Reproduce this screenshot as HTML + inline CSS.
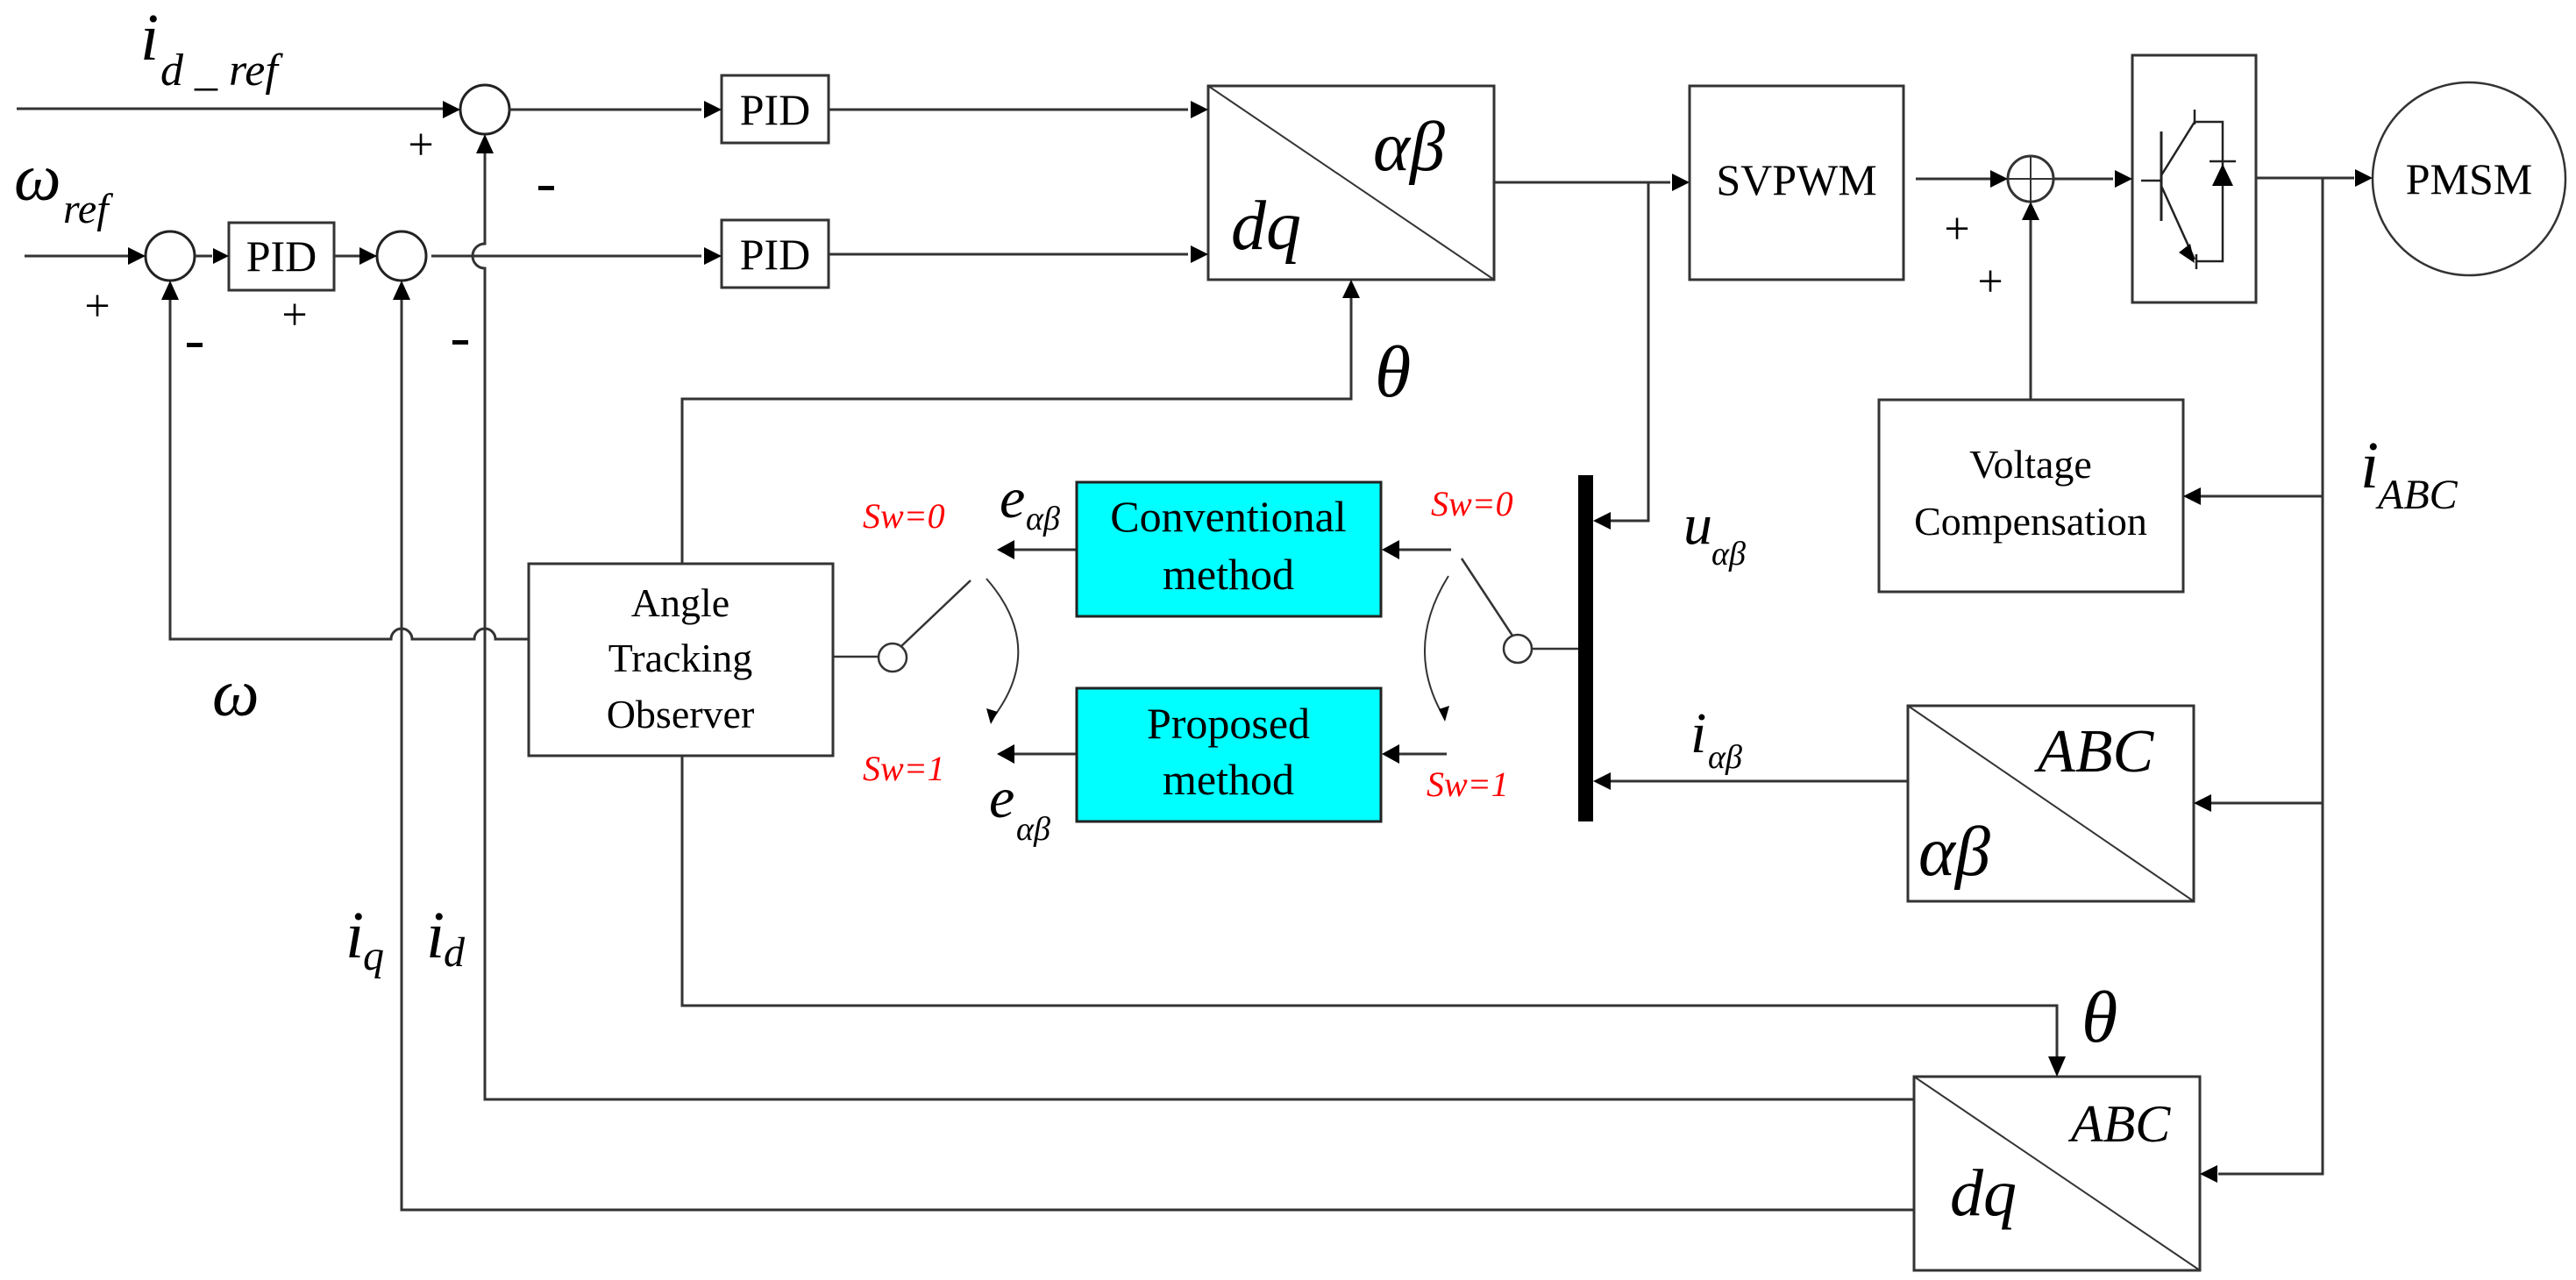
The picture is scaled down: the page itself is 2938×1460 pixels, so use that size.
<!DOCTYPE html>
<html><head><meta charset="utf-8"><style>
html,body{margin:0;padding:0;background:#fff;}
svg{display:block;}
text{font-family:"Liberation Serif",serif;fill:#000;}
.it{font-style:italic;}
.red{fill:#f00;font-style:italic;}
</style></head><body>
<svg width="2938" height="1460" viewBox="0 0 2938 1460" xmlns="http://www.w3.org/2000/svg">
<g stroke="#333" stroke-width="3" fill="none">
<line x1="19" y1="124" x2="505" y2="124"/>
<circle cx="553" cy="125" r="28" stroke="#222"/>
<line x1="581" y1="125" x2="800" y2="125"/>
<rect x="823" y="86" width="122" height="77"/>
<line x1="945" y1="125" x2="1355" y2="125"/>
<rect x="1378" y="98" width="326" height="221"/>
<line x1="1378" y1="98" x2="1704" y2="319" stroke-width="2"/>
<line x1="28" y1="292" x2="146" y2="292"/>
<circle cx="194" cy="292" r="28" stroke="#222"/>
<line x1="222" y1="292" x2="242" y2="292"/>
<rect x="261" y="254" width="120" height="77"/>
<line x1="381" y1="292" x2="410" y2="292"/>
<circle cx="458" cy="292" r="28" stroke="#222"/>
<line x1="492" y1="292" x2="800" y2="292"/>
<rect x="823" y="251" width="122" height="77"/>
<line x1="945" y1="290" x2="1355" y2="290"/>
<path d="M553 175 V278 a14 14 0 0 0 0 28 V1254 H2183"/>
<path d="M458 340 V1380 H2183"/>
<path d="M194 340 V729 H446 a12 12 0 0 1 24 0 H541 a12 12 0 0 1 24 0 H603"/>
<rect x="603" y="643" width="347" height="219"/>
<path d="M778 643 V455 H1541 V340"/>
<path d="M778 862 V1147 H2346 V1205"/>
<line x1="950" y1="749" x2="1002" y2="749" stroke-width="2.5"/>
<circle cx="1018" cy="750" r="16" stroke-width="2.5"/>
<line x1="1028" y1="737" x2="1107" y2="662" stroke-width="2.5"/>
<path d="M1125 660 Q1195 740 1130 822" stroke-width="2"/>
<circle cx="1731" cy="740" r="16" stroke-width="2.5"/>
<line x1="1747" y1="740" x2="1801" y2="740" stroke-width="2.5"/>
<line x1="1725" y1="725" x2="1667" y2="637" stroke-width="2.5"/>
<path d="M1652 657 Q1600 740 1648 820" stroke-width="2"/>
<line x1="1228" y1="627" x2="1150" y2="627"/>
<line x1="1655" y1="627" x2="1590" y2="627"/>
<line x1="1228" y1="860" x2="1150" y2="860"/>
<line x1="1650" y1="860" x2="1590" y2="860"/>
<line x1="1704" y1="208" x2="1905" y2="208"/>
<path d="M1880 208 V594 H1835"/>
<rect x="1927" y="98" width="244" height="221"/>
<line x1="2185" y1="204" x2="2270" y2="204"/>
<circle cx="2316" cy="204" r="26"/>
<line x1="2290" y1="204" x2="2342" y2="204" stroke-width="2"/>
<line x1="2316" y1="178" x2="2316" y2="230" stroke-width="2"/>
<line x1="2342" y1="204" x2="2410" y2="204"/>
<path d="M2316 456 V250"/>
<rect x="2432" y="63" width="141" height="282"/>
<line x1="2573" y1="203" x2="2685" y2="203"/>
<path d="M2649 203 V1339 H2530"/>
<line x1="2649" y1="566" x2="2510" y2="566"/>
<line x1="2649" y1="916" x2="2522" y2="916"/>
<rect x="2143" y="456" width="347" height="219"/>
<circle cx="2816" cy="204" r="110" stroke-width="2.5"/>
<line x1="2176" y1="891" x2="1835" y2="891"/>
<rect x="2176" y="805" width="326" height="223"/>
<line x1="2176" y1="805" x2="2502" y2="1028" stroke-width="2"/>
<rect x="2183" y="1228" width="326" height="221"/>
<line x1="2183" y1="1228" x2="2509" y2="1449" stroke-width="2"/>
<g stroke="#222" stroke-width="2.5">
<line x1="2442" y1="206" x2="2465" y2="206"/>
<line x1="2465" y1="150" x2="2465" y2="252" stroke-width="3"/>
<line x1="2465" y1="200" x2="2503" y2="139"/>
<line x1="2503" y1="125" x2="2503" y2="142"/>
<path d="M2503 139 H2535 V298 H2505"/>
<line x1="2465" y1="212" x2="2503" y2="296"/>
<line x1="2505" y1="290" x2="2505" y2="307"/>
<line x1="2520" y1="184" x2="2550" y2="184"/>
</g>
</g>
<rect x="1228" y="550" width="347" height="153" fill="#00ffff" stroke="#222" stroke-width="3"/>
<rect x="1228" y="785" width="347" height="152" fill="#00ffff" stroke="#222" stroke-width="3"/>
<rect x="1800" y="542" width="17" height="395" fill="#000"/>
<g fill="#000">
<polygon points="525,125 505,115 505,135"/>
<polygon points="823,125 803,115 803,135"/>
<polygon points="1378,125 1358,115 1358,135"/>
<polygon points="166,292 146,282 146,302"/>
<polygon points="261,292 243,283 243,301"/>
<polygon points="430,292 410,282 410,302"/>
<polygon points="823,292 803,282 803,302"/>
<polygon points="1378,290 1358,280 1358,300"/>
<polygon points="553,153 543,175 563,175"/>
<polygon points="194,320 184,342 204,342"/>
<polygon points="458,320 448,342 468,342"/>
<polygon points="1541,319 1531,340 1551,340"/>
<polygon points="2346,1228 2336,1205 2356,1205"/>
<polygon points="1137,627 1157,616 1157,638"/>
<polygon points="1576,627 1596,616 1596,638"/>
<polygon points="1137,860 1157,849 1157,871"/>
<polygon points="1576,860 1596,849 1596,871"/>
<polygon points="1130,826 1125,808 1138,812"/>
<polygon points="1648,823 1653,805 1641,809"/>
<polygon points="1927,208 1907,198 1907,218"/>
<polygon points="1817,594 1837,584 1837,604"/>
<polygon points="1817,891 1837,881 1837,901"/>
<polygon points="2290,204 2270,194 2270,214"/>
<polygon points="2316,230 2306,251 2326,251"/>
<polygon points="2432,204 2412,194 2412,214"/>
<polygon points="2706,203 2686,193 2686,213"/>
<polygon points="2490,566 2510,556 2510,576"/>
<polygon points="2502,916 2522,906 2522,926"/>
<polygon points="2509,1339 2529,1329 2529,1349"/>
<polygon points="2535,187 2523,212 2547,212"/>
<polygon points="2503,300 2485,288 2498,278"/>
<rect x="614" y="212" width="18" height="5"/>
<rect x="213" y="391" width="18" height="5"/>
<rect x="516" y="388" width="18" height="5"/>
</g>
<g font-size="50" text-anchor="middle">
<text x="884" y="142">PID</text>
<text x="321" y="309">PID</text>
<text x="884" y="307">PID</text>
<text x="2049" y="222">SVPWM</text>
<text x="2816" y="221">PMSM</text>
<text x="776" y="703" font-size="46">Angle</text>
<text x="776" y="766" font-size="46">Tracking</text>
<text x="776" y="830" font-size="46">Observer</text>
<text x="2316" y="545" font-size="46">Voltage</text>
<text x="2316" y="610" font-size="46">Compensation</text>
<text x="1401" y="606">Conventional</text>
<text x="1401" y="672">method</text>
<text x="1401" y="842">Proposed</text>
<text x="1401" y="906">method</text>
</g>
<g font-size="40">
<text class="red" x="984" y="602">Sw=0</text>
<text class="red" x="1632" y="588">Sw=0</text>
<text class="red" x="984" y="890">Sw=1</text>
<text class="red" x="1627" y="908">Sw=1</text>
</g>
<g>
<text class="it" x="160" y="68" font-size="76">i</text>
<text class="it" x="183" y="97" font-size="52">d _ ref</text>
<text class="it" x="16" y="228" font-size="76">ω</text>
<text class="it" x="72" y="254" font-size="48">ref</text>
<text class="it" x="1566" y="194" font-size="80">αβ</text>
<text class="it" x="1404" y="284" font-size="80">dq</text>
<text class="it" x="1568" y="452" font-size="84">θ</text>
<text class="it" x="2374" y="1188" font-size="84">θ</text>
<text class="it" x="242" y="816" font-size="76">ω</text>
<text class="it" x="1140" y="590" font-size="66">e</text>
<text class="it" x="1170" y="604" font-size="38">αβ</text>
<text class="it" x="1128" y="932" font-size="66">e</text>
<text class="it" x="1159" y="958" font-size="38">αβ</text>
<text class="it" x="1920" y="620" font-size="66">u</text>
<text class="it" x="1952" y="644" font-size="38">αβ</text>
<text class="it" x="1928" y="858" font-size="66">i</text>
<text class="it" x="1948" y="876" font-size="38">αβ</text>
<text class="it" x="2692" y="556" font-size="76">i</text>
<text class="it" x="2712" y="580" font-size="48">ABC</text>
<text class="it" x="2324" y="880" font-size="70">ABC</text>
<text class="it" x="2188" y="998" font-size="80">αβ</text>
<text class="it" x="2362" y="1302" font-size="60">ABC</text>
<text class="it" x="2224" y="1386" font-size="76">dq</text>
<text class="it" x="394" y="1092" font-size="76">i</text>
<text class="it" x="414" y="1106" font-size="48">q</text>
<text class="it" x="486" y="1092" font-size="76">i</text>
<text class="it" x="506" y="1102" font-size="48">d</text>
</g>
<g font-size="52" text-anchor="middle">
<text x="480" y="182">+</text>
<text x="111" y="366">+</text>
<text x="336" y="376">+</text>
<text x="2232" y="278">+</text>
<text x="2270" y="338">+</text>
</g>
</svg>
</body></html>
